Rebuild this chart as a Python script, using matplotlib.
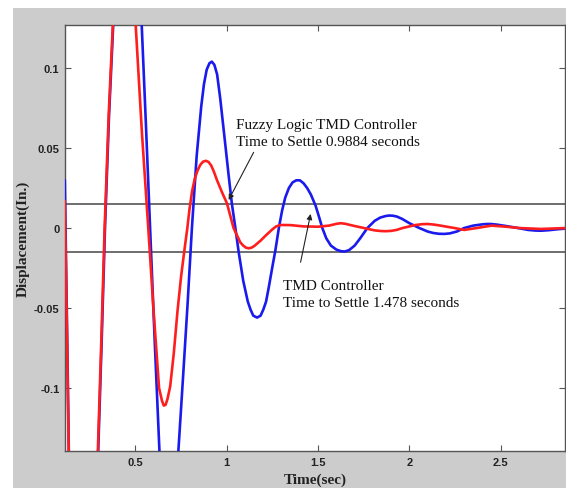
import matplotlib
matplotlib.use("Agg")
import matplotlib.pyplot as plt
from matplotlib.patches import Rectangle

# Displacement response of the structure (in.) versus time (s)
t_tmd = [0.113, 0.125, 0.135, 0.15, 0.17, 0.20, 0.23, 0.26, 0.28, 0.296,
         0.315, 0.333, 0.355, 0.378, 0.40, 0.43, 0.46, 0.49, 0.515, 0.534,
         0.557, 0.580, 0.605, 0.631, 0.655, 0.68, 0.705, 0.735, 0.76, 0.785,
         0.809, 0.835, 0.86, 0.875, 0.89, 0.905, 0.918, 0.932, 0.947, 0.964,
         0.99, 1.01, 1.028, 1.047, 1.065, 1.09, 1.115, 1.13, 1.145, 1.166,
         1.185, 1.20, 1.215, 1.23, 1.25, 1.266, 1.285, 1.303, 1.32, 1.34,
         1.36, 1.38, 1.40, 1.42, 1.44, 1.46, 1.486, 1.505, 1.523, 1.545,
         1.57, 1.60, 1.625, 1.646, 1.67, 1.70, 1.73, 1.77, 1.81, 1.84,
         1.87, 1.89, 1.908, 1.93, 1.96, 2.00, 2.054, 2.10, 2.13, 2.16,
         2.19, 2.22, 2.26, 2.30, 2.35, 2.40, 2.425, 2.448, 2.48, 2.52,
         2.594, 2.65, 2.69, 2.72, 2.76, 2.81, 2.86]
y_tmd = [0.030, -0.060, -0.140, -0.23, -0.30, -0.34, -0.31, -0.23, -0.18, -0.139,
         -0.070, 0.000, 0.070, 0.127, 0.175, 0.210, 0.215, 0.190, 0.160, 0.127,
         0.065, 0.000, -0.070, -0.139, -0.180, -0.195, -0.180, -0.139, -0.094, -0.048,
         0.000, 0.045, 0.076, 0.090, 0.099, 0.103, 0.104, 0.102, 0.096, 0.081,
         0.054, 0.033, 0.015, 0.000, -0.015, -0.033, -0.046, -0.051, -0.0548, -0.056,
         -0.0548, -0.051, -0.046, -0.037, -0.024, -0.014, 0.000, 0.011, 0.019, 0.025,
         0.0285, 0.0298, 0.0298, 0.028, 0.025, 0.021, 0.014, 0.007, 0.000, -0.0065,
         -0.011, -0.0135, -0.0145, -0.0147, -0.0138, -0.011, -0.0065, 0.000, 0.0045, 0.0065,
         0.0075, 0.0078, 0.0077, 0.0072, 0.0057, 0.003, 0.000, -0.0022, -0.0031, -0.0036,
         -0.0037, -0.0034, -0.0022, 0.000, 0.0015, 0.0023, 0.0025, 0.0025, 0.0021, 0.0014,
         0.000, -0.0012, -0.0016, -0.0017, -0.0014, -0.0008, -0.0003]

t_fuzzy = [0.113, 0.124, 0.135, 0.15, 0.17, 0.20, 0.23, 0.26, 0.28, 0.294,
           0.313, 0.331, 0.353, 0.376, 0.40, 0.43, 0.455, 0.48, 0.501, 0.535,
           0.570, 0.598, 0.629, 0.645, 0.655, 0.665, 0.675, 0.69, 0.71, 0.73,
           0.75, 0.77, 0.784, 0.796, 0.81, 0.825, 0.84, 0.855, 0.870, 0.886,
           0.90, 0.915, 0.93, 0.946, 0.975, 1.001, 1.037, 1.074, 1.09, 1.105,
           1.12, 1.135, 1.15, 1.184, 1.215, 1.248, 1.27, 1.294, 1.35, 1.42,
           1.50, 1.56, 1.60, 1.624, 1.65, 1.69, 1.75, 1.81, 1.845, 1.871,
           1.90, 1.93, 1.963, 2.03, 2.07, 2.10, 2.13, 2.17, 2.246, 2.30,
           2.37, 2.45, 2.53, 2.60, 2.72, 2.86]
y_fuzzy = [0.017, -0.060, -0.145, -0.23, -0.29, -0.32, -0.29, -0.22, -0.175, -0.139,
           -0.070, 0.000, 0.070, 0.127, 0.165, 0.185, 0.180, 0.160, 0.127, 0.060,
           0.000, -0.050, -0.100, -0.108, -0.111, -0.1105, -0.107, -0.099, -0.078, -0.052,
           -0.030, -0.012, 0.000, 0.012, 0.023, 0.031, 0.036, 0.0395, 0.0415, 0.042,
           0.0413, 0.039, 0.035, 0.030, 0.022, 0.0154, 0.000, -0.009, -0.011, -0.0123,
           -0.0127, -0.0123, -0.0113, -0.008, -0.0045, -0.001, 0.001, 0.0019, 0.0018, 0.001,
           0.0008, 0.0015, 0.0026, 0.003, 0.0026, 0.0015, 0.000, -0.0015, -0.0019, -0.002,
           -0.0018, -0.0012, 0.000, 0.0018, 0.0024, 0.0025, 0.0022, 0.0015, 0.000, -0.0012,
           0.000, 0.0015, 0.0008, 0.000, -0.0006, 0.000]

settle_band = [0.015, -0.015]
x_ticks = [0.5, 1, 1.5, 2, 2.5]
x_tick_labels = ["0.5", "1", "1.5", "2", "2.5"]
y_ticks = [-0.1, -0.05, 0, 0.05, 0.1]
y_tick_labels = ["-0.1", "-0.05", "0", "0.05", "0.1"]

fuzzy_note = "Fuzzy Logic TMD Controller\nTime to Settle 0.9884 seconds"
tmd_note = "TMD Controller\nTime to Settle 1.478 seconds"

W, H = 566, 489
fig = plt.figure(figsize=(W / 100, H / 100), dpi=100, facecolor="white")
fig.patches.append(Rectangle((13 / W, 0), 1 - 13 / W, (H - 9) / H,
                             transform=fig.transFigure, facecolor="#cccccc",
                             edgecolor="none", zorder=-10))

ax = fig.add_axes([65 / W, 37 / H, 500 / W, 426 / H])
ax.set_facecolor("white")

for yv in settle_band:
    ax.axhline(yv, color="#555555", lw=1.2, zorder=2)

ax.plot(t_tmd, y_tmd, color="#1a1aee", lw=1.9, zorder=3,
        solid_capstyle="round", solid_joinstyle="round")
ax.plot(t_fuzzy, y_fuzzy, color="#ff1e1e", lw=1.9, zorder=4,
        solid_capstyle="round", solid_joinstyle="round")

ax.set_xlim(0.114, 2.852)
ax.set_ylim(-0.1394, 0.1269)

ax.set_xticks(x_ticks)
ax.set_xticklabels(x_tick_labels)
ax.set_yticks(y_ticks)
ax.set_yticklabels(y_tick_labels)
ax.tick_params(direction="in", length=4, width=0.8, color="#555555",
               top=True, right=True, pad=4)
for lab in ax.get_xticklabels() + ax.get_yticklabels():
    lab.set_family("Liberation Sans")
    lab.set_fontsize(8)
    lab.set_fontweight("bold")
    lab.set_color("#222222")
for sp in ax.spines.values():
    sp.set_color("#555555")
    sp.set_linewidth(1.0)

ax.set_xlabel("Time(sec)", family="Liberation Serif", fontsize=11,
              fontweight="bold", color="#222222", labelpad=4)
ax.set_ylabel("Displacement(In.)", family="Liberation Serif", fontsize=11,
              fontweight="bold", color="#222222", labelpad=3)

arrow = dict(arrowstyle="-|>", color="#222222", lw=0.8, mutation_scale=8,
             shrinkA=0, shrinkB=0)
ax.annotate("", xy=(1.01, 0.0175), xytext=(1.147, 0.0473), arrowprops=arrow, zorder=5)
ax.annotate("", xy=(1.459, 0.0088), xytext=(1.404, -0.0214), arrowprops=arrow, zorder=5)

ax.text(1.050, 0.0594, fuzzy_note, family="Liberation Serif", fontsize=11,
        color="#111111", ha="left", va="center", linespacing=1.35, zorder=6)
ax.text(1.306, -0.0413, tmd_note, family="Liberation Serif", fontsize=11,
        color="#111111", ha="left", va="center", linespacing=1.35, zorder=6)

fig.savefig("out.png", dpi=100, facecolor=fig.get_facecolor())
